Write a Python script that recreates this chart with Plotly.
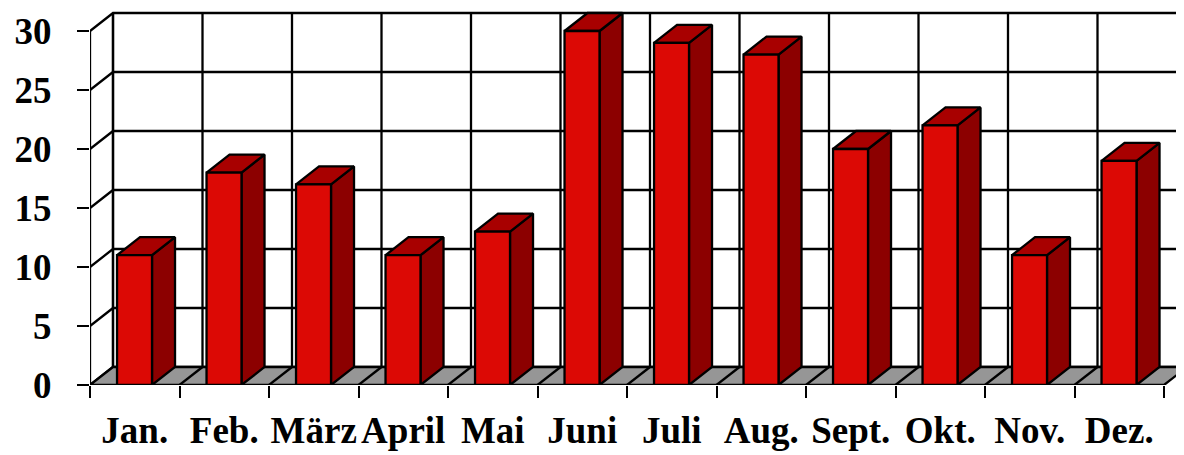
import plotly.graph_objects as go

months = ["Jan.", "Feb.", "März", "April", "Mai", "Juni", "Juli", "Aug.", "Sept.", "Okt.", "Nov.", "Dez."]
values = [11, 18, 17, 11, 13, 30, 29, 28, 20, 22, 11, 19]
y_ticks = [0, 5, 10, 15, 20, 25, 30]

# oblique 3D projection (in data units)
PX_X = 89.5   # px per category
PX_Y = 11.8   # px per value unit
DX = 23 / PX_X     # depth offset along x
DY = 18 / PX_Y     # depth offset along y
B0, B1 = 0.302, 0.693  # bar front face within category
N = len(months)

# page has an 8px body margin; the figure is placed at (8, 8)
W, H = 1176, 447
ML, MB = 82, 70
XMAX = (W - ML) / PX_X
YMAX = (H - MB) / PX_Y

FRONT = "#DC0905"
SIDE = "#8C0000"
TOP = "#A80000"
FLOOR = "#969696"
LINE = dict(color="black", width=2.3)

fig = go.Figure()

# back wall gridlines (horizontal) + side wall diagonals
gx, gy = [], []
for v in y_ticks:
    gx += [0, DX, XMAX + 1, None]
    gy += [v, v + DY, v + DY, None]
# back wall vertical lines
for i in range(N + 1):
    gx += [i + DX, i + DX, None]
    gy += [DY, y_ticks[-1] + DY, None]
# side wall edges
gx += [0, 0, None, DX, DX, None]
gy += [0, y_ticks[-1], None, DY, y_ticks[-1] + DY, None]
fig.add_trace(go.Scatter(x=gx, y=gy, mode="lines", line=LINE, hoverinfo="skip", showlegend=False))

# floor
fx, fy = [0, N, N + DX, DX, 0, None], [0, 0, DY, DY, 0, None]
fig.add_trace(go.Scatter(x=fx, y=fy, mode="lines", fill="toself", fillcolor=FLOOR,
                         line=LINE, hoverinfo="skip", showlegend=False))
lx, ly = [], []
for i in range(1, N):
    lx += [i, i + DX, None]
    ly += [0, DY, None]
fig.add_trace(go.Scatter(x=lx, y=ly, mode="lines", line=LINE, hoverinfo="skip", showlegend=False))

# bars: side, top, front faces
sx, sy, tx, ty, px, py = [], [], [], [], [], []
for i, v in enumerate(values):
    a, b = i + B0, i + B1
    sx += [b, b + DX, b + DX, b, b, None]
    sy += [0, DY, v + DY, v, 0, None]
    tx += [a, b, b + DX, a + DX, a, None]
    ty += [v, v, v + DY, v + DY, v, None]
    px += [a, b, b, a, a, None]
    py += [0, 0, v, v, 0, None]
for xx, yy, col in [(sx, sy, SIDE), (tx, ty, TOP), (px, py, FRONT)]:
    fig.add_trace(go.Scatter(x=xx, y=yy, mode="lines", fill="toself", fillcolor=col,
                             line=LINE, hoverinfo="skip", showlegend=False))

# invisible trace to activate xaxis2 (month labels)
fig.add_trace(go.Scatter(x=[i + 0.5 for i in range(N)], y=[0] * N, xaxis="x2",
                         mode="markers", marker=dict(opacity=0), hoverinfo="skip", showlegend=False))

FONT = dict(family="Liberation Serif", size=37, color="black", weight="bold")
fig.update_layout(
    width=W, height=H,
    margin=dict(l=ML, r=0, t=0, b=MB),
    paper_bgcolor="white", plot_bgcolor="white",
    xaxis=dict(range=[0, XMAX], tickvals=list(range(N + 1)), ticktext=[""] * (N + 1),
               ticks="outside", ticklen=12, tickwidth=1.5, tickcolor="black",
               showgrid=False, zeroline=False, showline=False, fixedrange=True),
    xaxis2=dict(range=[0, XMAX], overlaying="x", anchor="y", side="bottom",
                tickvals=[i + 0.5 for i in range(N)], ticktext=months,
                ticks="", showgrid=False, zeroline=False, showline=False,
                tickfont=FONT, ticklabelstandoff=20, fixedrange=True),
    yaxis=dict(range=[0, YMAX], tickvals=y_ticks, ticktext=[str(t) for t in y_ticks],
               ticks="outside", ticklen=12, tickwidth=1.5, tickcolor="black",
               showgrid=False, zeroline=False, showline=False,
               tickfont=FONT, ticklabelstandoff=18, fixedrange=True),
)

fig.write_html("out.html")
